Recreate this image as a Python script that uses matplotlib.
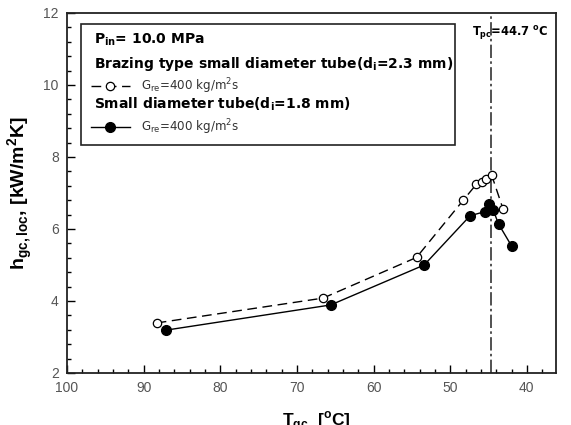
import matplotlib
matplotlib.use("Agg")
import matplotlib.pyplot as plt
from matplotlib.lines import Line2D
from matplotlib.patches import Rectangle
from matplotlib.ticker import MultipleLocator

plt.rcParams['font.family'] = ['Liberation Sans', 'DejaVu Sans']

# Data
T_brazing = [88.3, 66.6, 54.4, 48.3, 46.6, 45.9, 45.3, 44.6, 43.1]
h_brazing = [3.39, 4.08, 5.21, 6.80, 7.24, 7.31, 7.38, 7.50, 6.55]
T_small = [87.1, 65.6, 53.4, 47.4, 45.5, 44.9, 44.4, 43.7, 42.0]
h_small = [3.19, 3.89, 5.00, 6.37, 6.48, 6.69, 6.53, 6.14, 5.53]
T_pc = 44.7

W, H = 571, 425
fig = plt.figure(figsize=(W/100, H/100), dpi=100)
ax = fig.add_axes([67/W, 1-373/H, (556-67)/W, (373-13)/H])

ax.plot(T_brazing, h_brazing, color='black', lw=1.0, ls=(0, (7, 4)),
        marker='o', mfc='white', mec='black', ms=6, mew=0.9, zorder=3)
ax.plot(T_small, h_small, color='black', lw=1.0, ls='-',
        marker='o', mfc='black', mec='black', ms=7, zorder=3)
ax.axvline(T_pc, color='#333333', lw=1.2, ls=(0, (8, 2, 1.5, 2)), zorder=2)

ax.set_xlim(100, 36.2)
ax.set_ylim(2, 12)
ax.xaxis.set_major_locator(MultipleLocator(10))
ax.xaxis.set_minor_locator(MultipleLocator(2))
ax.yaxis.set_major_locator(MultipleLocator(2))
ax.yaxis.set_minor_locator(MultipleLocator(0.4))
ax.tick_params(which='both', direction='in', top=False, right=False,
               labelsize=10, labelcolor='#555555', width=1.0)
ax.tick_params(which='major', length=6, pad=6)
ax.tick_params(which='minor', length=3)
for s in ax.spines.values():
    s.set_linewidth(1.3)
    s.set_color('#222222')

ax.set_ylabel(r'h$_{\mathregular{gc,loc}}$, [kW/m$^{\mathregular{2}}$K]',
              fontsize=14, fontweight='bold', labelpad=6)
fig.text(316/W, 1-426/H, r'T$_{\mathregular{gc}}$  [$^{\mathregular{o}}$C]',
         fontsize=12.5, fontweight='bold', ha='center', va='baseline')

def fx(px):
    return px/W
def fy(py):
    return 1-py/H

fig.text(fx(472), fy(33), r'T$_{\mathregular{pc}}$=44.7 $^{\mathregular{o}}$C',
         fontsize=8.3, fontweight='bold', family='DejaVu Sans',
         ha='left', va='center')

# Legend box
box = Rectangle((fx(81), fy(145)), fx(455)-fx(81), fy(24)-fy(145),
                transform=fig.transFigure, fill=True, facecolor='white',
                edgecolor='#222222', lw=1.2, zorder=5)
fig.patches.append(box)

hd = dict(fontsize=10.0, fontweight='bold', family='DejaVu Sans',
          va='center', zorder=6)
fig.text(fx(94), fy(40), r'P$_{\mathregular{in}}$= 10.0 MPa', **hd)
fig.text(fx(94), fy(64), r'Brazing type small diameter tube(d$_{\mathregular{i}}$=2.3 mm)', **hd)
fig.text(fx(94), fy(104), r'Small diameter tube(d$_{\mathregular{i}}$=1.8 mm)', **hd)
en = dict(fontsize=8.6, family='DejaVu Sans', color='#333333',
          va='center', zorder=6)
fig.text(fx(141), fy(86), r'G$_{\mathregular{re}}$=400 kg/m$^{\mathregular{2}}$s', **en)
fig.text(fx(141), fy(127), r'G$_{\mathregular{re}}$=400 kg/m$^{\mathregular{2}}$s', **en)

l1 = Line2D([fx(91), fx(130)], [fy(86), fy(86)], transform=fig.transFigure,
            color='black', lw=1.0, ls=(0, (7, 4)), zorder=6)
m1 = Line2D([fx(110)], [fy(86)], transform=fig.transFigure, marker='o',
            mfc='white', mec='black', ms=6, mew=0.9, zorder=7)
l2 = Line2D([fx(91), fx(130)], [fy(127), fy(127)], transform=fig.transFigure,
            color='black', lw=1.0, zorder=6)
m2 = Line2D([fx(110)], [fy(127)], transform=fig.transFigure, marker='o',
            mfc='black', mec='black', ms=7, zorder=7)
for l in (l1, m1, l2, m2):
    fig.lines.append(l)

fig.savefig('out.png', dpi=100)
